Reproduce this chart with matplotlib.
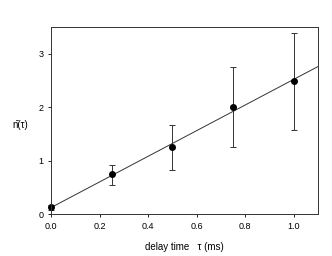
import matplotlib
matplotlib.use('Agg')
import matplotlib.pyplot as plt

plt.rcParams['font.family'] = ['Liberation Sans', 'DejaVu Sans']

# данные
tau = [0.0, 0.25, 0.5, 0.75, 1.0]
n_mean = [0.13, 0.74, 1.25, 2.01, 2.49]
err_low = [0.05, 0.19, 0.43, 0.76, 0.91]
err_high = [0.04, 0.18, 0.42, 0.75, 0.90]
fit_x = [0.0, 1.1]
fit_y = [0.12, 2.76]

fig = plt.figure(figsize=(3.32, 2.56), dpi=100)
ax = fig.add_axes([51 / 332, 1 - 214 / 256, 267 / 332, 187 / 256])

ax.plot(fit_x, fit_y, color='#333333', linewidth=0.7)
eb = ax.errorbar(tau, n_mean, yerr=[err_low, err_high], fmt='o', color='black',
                 ecolor='#333333', elinewidth=0.7, capsize=2.5, capthick=0.7,
                 markersize=4)
for art in eb.get_children():
    art.set_clip_on(False)

ax.set_xlim(0, 1.1)
ax.set_ylim(0, 3.5)
ax.set_xticks([0.0, 0.2, 0.4, 0.6, 0.8, 1.0])
ax.set_xticklabels(['0.0', '0.2', '0.4', '0.6', '0.8', '1.0'])
ax.set_yticks([0, 1, 2, 3])
ax.tick_params(labelsize=6.5, length=2.5, width=0.6, direction='out', pad=3)
for s in ax.spines.values():
    s.set_linewidth(0.7)
    s.set_color('#333333')

ax.set_xlabel('delay time   \u03c4 (ms)', fontsize=7, labelpad=8)
fig.text(20 / 332, 1 - 125 / 256, 'n\u0304(\u03c4)', fontsize=7,
         ha='center', va='center')

plt.savefig('out.png', dpi=100)
